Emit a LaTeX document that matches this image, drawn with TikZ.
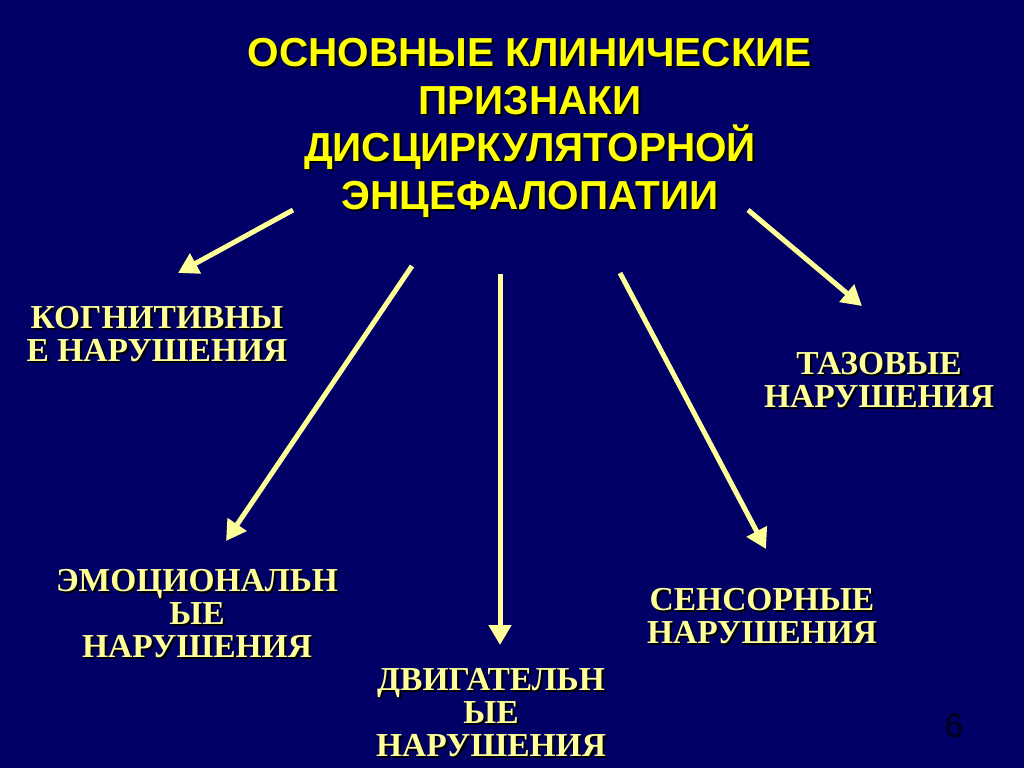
\documentclass[tikz,border=0pt]{standalone}
\usepackage{fontspec}
\usetikzlibrary{arrows.meta}
\newfontfamily\titlefont{Liberation Sans}
\newfontfamily\labelfont{Liberation Serif}
\definecolor{bgnavy}{RGB}{0,0,102}
\definecolor{titleyellow}{RGB}{255,255,0}
\definecolor{paleyellow}{RGB}{255,255,153}
\definecolor{numdark}{RGB}{0,0,25}
\tikzset{
  titletext/.style={align=center, inner sep=0pt, font=\titlefont\bfseries\fontsize{40.5}{47.5}\selectfont},
  labeltext/.style={align=center, inner sep=0pt, font=\labelfont\bfseries\fontsize{33.5}{33}\selectfont},
  shadowtext/.style={text=black},
  arrowline/.style={draw=paleyellow, line width=5pt, -{Triangle[length=20pt,width=22pt]}}
}
\begin{document}
\begin{tikzpicture}[x=1pt,y=-1pt]
\fill[bgnavy] (0,0) rectangle (1024,768);
\useasboundingbox (0,0) rectangle (1024,768);

% title
\node[titletext, shadowtext] (titles) at (532,130) {ОСНОВНЫЕ КЛИНИЧЕСКИЕ\\ПРИЗНАКИ\\ДИСЦИРКУЛЯТОРНОЙ\\ЭНЦЕФАЛОПАТИИ};
\node[titletext, text=titleyellow] (title) at (530,128) {ОСНОВНЫЕ КЛИНИЧЕСКИЕ\\ПРИЗНАКИ\\ДИСЦИРКУЛЯТОРНОЙ\\ЭНЦЕФАЛОПАТИИ};

% labels (shadow + text)
\node[labeltext, shadowtext] (cogs) at (159,336) {КОГНИТИВНЫ\\Е НАРУШЕНИЯ};
\node[labeltext, text=paleyellow] (cog) at (157,334) {КОГНИТИВНЫ\\Е НАРУШЕНИЯ};

\node[labeltext, shadowtext] (tazs) at (881,382) {ТАЗОВЫЕ\\НАРУШЕНИЯ};
\node[labeltext, text=paleyellow] (taz) at (879,380) {ТАЗОВЫЕ\\НАРУШЕНИЯ};

\node[labeltext, shadowtext] (emos) at (199,616) {ЭМОЦИОНАЛЬН\\ЫЕ\\НАРУШЕНИЯ};
\node[labeltext, text=paleyellow] (emo) at (197,614) {ЭМОЦИОНАЛЬН\\ЫЕ\\НАРУШЕНИЯ};

\node[labeltext, shadowtext] (dvigs) at (493,715) {ДВИГАТЕЛЬН\\ЫЕ\\НАРУШЕНИЯ};
\node[labeltext, text=paleyellow] (dvig) at (491,713) {ДВИГАТЕЛЬН\\ЫЕ\\НАРУШЕНИЯ};

\node[labeltext, shadowtext] (senss) at (764,618) {СЕНСОРНЫЕ\\НАРУШЕНИЯ};
\node[labeltext, text=paleyellow] (sens) at (762,616) {СЕНСОРНЫЕ\\НАРУШЕНИЯ};

% page number
\node[inner sep=0pt, text=numdark, font=\titlefont\fontsize{34}{34}\selectfont] (pnum) at (954,726) {6};

% arrow end points
\coordinate (a1s) at (293,210); \coordinate (a1e) at (178,273);
\coordinate (a2s) at (412,266); \coordinate (a2e) at (226,541);
\coordinate (a3s) at (500,274); \coordinate (a3e) at (500,645);
\coordinate (a4s) at (620,273); \coordinate (a4e) at (766,549);
\coordinate (a5s) at (748,210); \coordinate (a5e) at (862,306);

\draw[arrowline] (a1s) -- (a1e);
\draw[arrowline] (a2s) -- (a2e);
\draw[arrowline] (a3s) -- (a3e);
\draw[arrowline] (a4s) -- (a4e);
\draw[arrowline] (a5s) -- (a5e);
\end{tikzpicture}
\end{document}
